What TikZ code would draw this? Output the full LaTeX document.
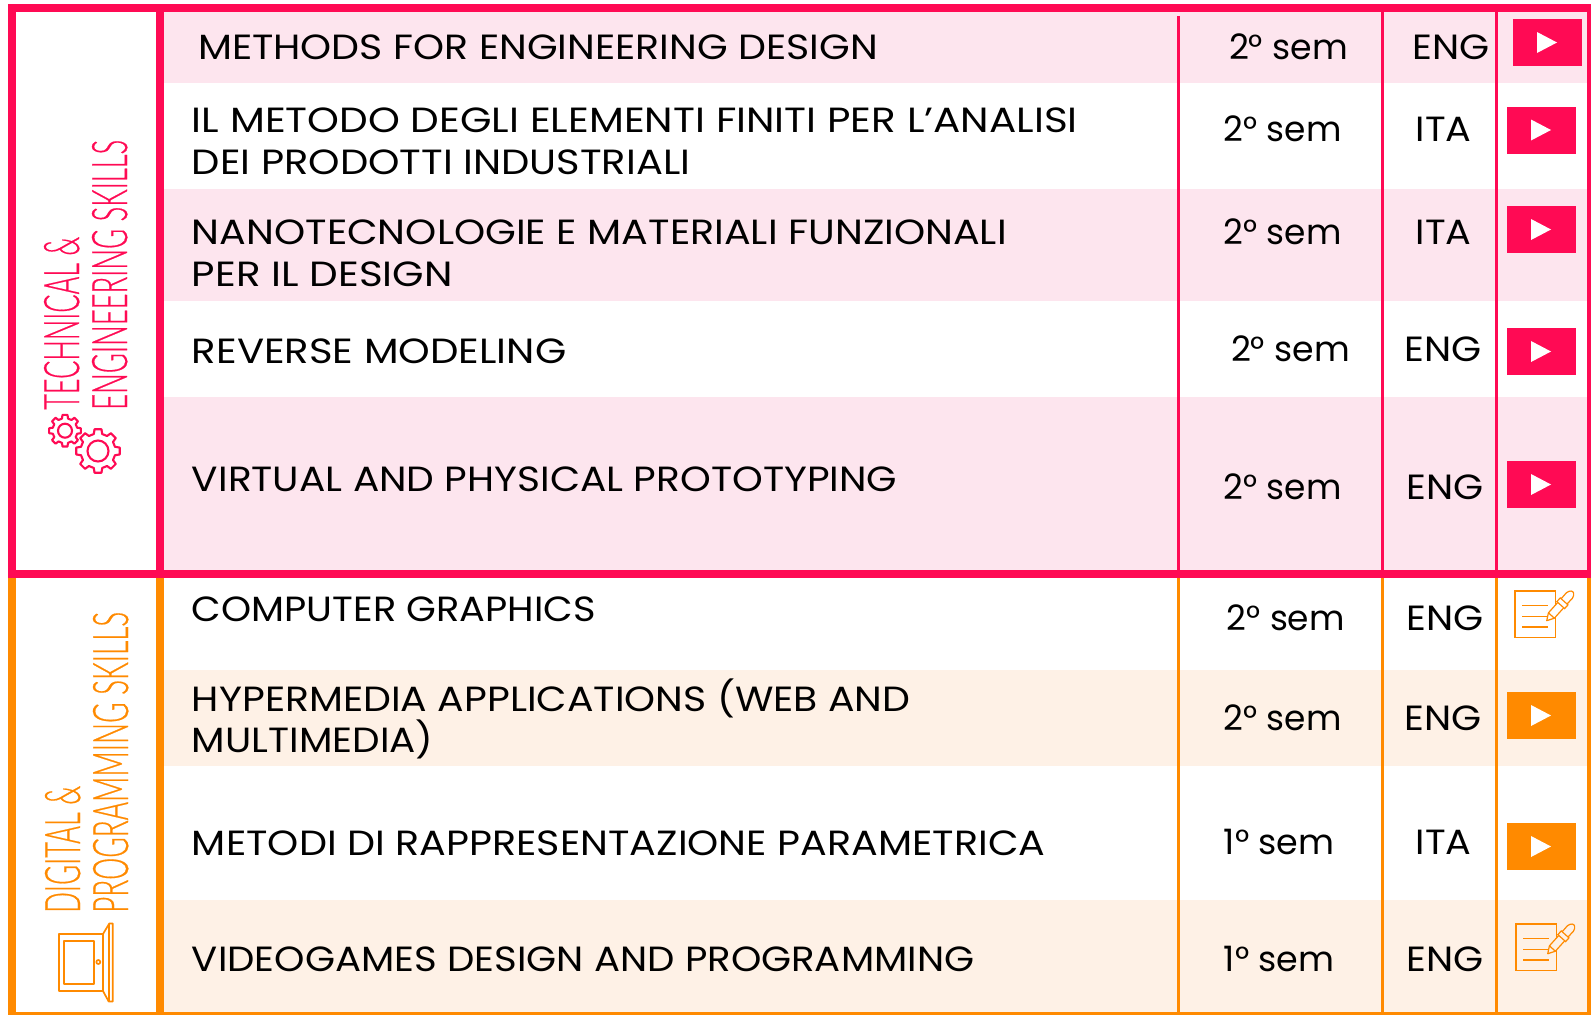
\documentclass[tikz,border=0pt]{standalone}
\usepackage{fontspec}
\usepackage{graphicx}
\setmainfont{Poppins}
\newfontfamily\headf[FakeBold=0.6]{Lato Light}
\definecolor{pk}{HTML}{FF0A54}
\definecolor{pkt}{HTML}{FDE5EE}
\definecolor{og}{HTML}{FF8A00}
\definecolor{ogt}{HTML}{FEF1E6}
\newdimen\uu \uu=1.0147pt
\usetikzlibrary{calc}
\newcommand\lab[5]{\node[txt] (#1) at (#2,#3) {\resizebox{#4\uu}{\height}{#5}};}
\newcommand\btn[4]{%
  \fill[#4] (#2,#3) rectangle ++(69,47);
  \coordinate (#1) at (#2,#3);
  \fill[white] ($(#1)+(24,13)$) -- ($(#1)+(44,23.5)$) -- ($(#1)+(24,34)$) -- cycle;}
\newcommand\noteicon[3]{%
  \begin{scope}[shift={(#1,#2)},draw=og]
    \draw[line width=1.2pt] (0,0) rectangle (40.7,46.3);
    \foreach \yy in {14.7,25.7,36} \draw[line width=1.2pt] (7.3,\yy) -- (33.3,\yy);
    \begin{scope}[shift={(31.7,29.7)},rotate=48]
      \draw[line width=1.2pt,fill=#3,line join=round] (0,0) -- (7,-4) -- (30,-4)
        .. controls (36,-5) and (39,-2) .. (39,0)
        .. controls (39,2) and (36,5) .. (30,4) -- (7,4) -- cycle;
      \draw[line width=1.2pt] (7,-4) -- (7,4);
      \draw[line width=1.2pt,fill=#3] (21,-5.2) rectangle (26,5.2);
    \end{scope}
  \end{scope}}
\newcommand\gearicon[6]{% name, cx, cy, outer r, root r, ring r
  \coordinate (#1) at (#2,#3);
  \draw[pk,line width=2.1pt,line join=round]
    ($(#1)+(-14:#5)$)
    \foreach \k [evaluate=\k as \a using \k*45] in {0,...,7} {
      -- ($(#1)+(\a-14:#5)$) -- ($(#1)+(\a-9:#4)$) -- ($(#1)+(\a+9:#4)$) -- ($(#1)+(\a+14:#5)$) -- ($(#1)+(\a+31:#5)$)
    } -- cycle;
  \draw[pk,line width=2.1pt] (#1) circle (#6);}
\tikzset{
  txt/.style={anchor=base west,inner sep=0pt,font=\fontsize{35}{35}\selectfont,text=black},
  headtxt/.style={anchor=base west,inner sep=0pt,rotate=90,font=\fontsize{49}{49}\selectfont},
}
\begin{document}
\begin{tikzpicture}[x=1pt,y=-1pt]
\useasboundingbox (0,0) rectangle (1591,1015);
\fill[white] (0,0) rectangle (1591,1015);
% tinted bands
\fill[pkt] (164,12) rectangle (1587,83);
\fill[pkt] (164,189) rectangle (1587,301);
\fill[pkt] (164,397) rectangle (1587,571);
\fill[ogt] (164,670) rectangle (1587,766);
\fill[ogt] (164,900) rectangle (1587,1012);
% pink grid
\fill[pk] (1177,16) rectangle (1179.5,571);
\fill[pk] (1381,12) rectangle (1383.5,571);
\fill[pk] (1495,12) rectangle (1497.5,571);
\fill[pk] (1587,12) rectangle (1591,571);
\fill[pk] (7.5,4) rectangle (16,578);
\fill[pk] (156,4) rectangle (164,578);
% orange grid
\fill[og] (1177,578) rectangle (1179.5,1012);
\fill[og] (1381,578) rectangle (1383.5,1012);
\fill[og] (1495,578) rectangle (1497.5,1012);
\fill[og] (1587,578) rectangle (1591,1015);
\fill[og] (7.5,578) rectangle (16,1015);
\fill[og] (156,578) rectangle (164,1015);
\fill[og] (7.5,1012) rectangle (1591,1015);
\fill[pk] (7.5,4) rectangle (1591,12);
\fill[pk] (7.5,570) rectangle (1591,578);
% headings
\node[headtxt,text=pk] (h1) at (79,410) {\resizebox{173pt}{\height}{\headf TECHNICAL \&}};
\node[headtxt,text=pk] (h2) at (127,410) {\resizebox{270pt}{\height}{\headf ENGINEERING SKILLS}};
\node[headtxt,text=og] (h3) at (80,913) {\resizebox{127pt}{\height}{\headf DIGITAL \&}};
\node[headtxt,text=og] (h4) at (128,913) {\resizebox{301pt}{\height}{\headf PROGRAMMING SKILLS}};
% gears
\gearicon{g1}{65}{430.7}{16}{12.5}{7}
\gearicon{g2}{98}{451}{22}{17.5}{10.5}
% door
\begin{scope}[og,line width=1.7pt,line join=round]
  \draw (58.7,934) rectangle (103,991);
  \draw (64,940.7) rectangle (94,984);
  \draw (98.3,962) circle (2);
  \draw (103,934) -- (109.3,923.5) -- (112.7,923.5) -- (112.7,1001.5) -- (108.7,1001.5) -- (103,991);
  \draw (109.3,923.5) -- (109.3,1001.5);
\end{scope}
% texts
\begin{scope}[x=1.0147pt,y=-1.0147pt]
\lab{t1}{195}{59}{670}{METHODS FOR ENGINEERING DESIGN}
\lab{t2a}{189}{131}{873}{IL METODO DEGLI ELEMENTI FINITI PER L’ANALISI}
\lab{t2b}{189}{172}{491}{DEI PRODOTTI INDUSTRIALI}
\lab{t3a}{189}{241}{803}{NANOTECNOLOGIE E MATERIALI FUNZIONALI}
\lab{t3b}{189}{282}{257}{PER IL DESIGN}
\lab{t4}{189}{358}{369}{REVERSE MODELING}
\lab{t5}{189}{484}{695}{VIRTUAL AND PHYSICAL PROTOTYPING}
\lab{t6}{189}{612}{398}{COMPUTER GRAPHICS}
\lab{t7a}{189}{701}{708}{HYPERMEDIA APPLICATIONS (WEB AND}
\lab{t7b}{189}{742}{238}{MULTIMEDIA)}
\lab{t8}{189}{843}{841}{METODI DI RAPPRESENTAZIONE PARAMETRICA}
\lab{t9}{189}{957}{771}{VIDEOGAMES DESIGN AND PROGRAMMING}
\lab{s1}{1211}{59}{117}{2° sem}
\lab{s2}{1206}{139}{116}{2° sem}
\lab{s3}{1206}{241}{116}{2° sem}
\lab{s4}{1213}{356}{117}{2° sem}
\lab{s5}{1206}{492}{116}{2° sem}
\lab{s6}{1209}{621}{116}{2° sem}
\lab{s7}{1206}{720}{116}{2° sem}
\lab{s8}{1206}{842}{109}{1° sem}
\lab{s9}{1206}{957}{109}{1° sem}
\lab{l1}{1392}{59}{76}{ENG}
\lab{l2}{1395}{139}{55}{ITA}
\lab{l3}{1395}{241}{55}{ITA}
\lab{l4}{1384}{356}{76}{ENG}
\lab{l5}{1386}{492}{76}{ENG}
\lab{l6}{1386}{621}{76}{ENG}
\lab{l7}{1384}{720}{76}{ENG}
\lab{l8}{1395}{842}{55}{ITA}
\lab{l9}{1386}{957}{76}{ENG}
\end{scope}
% buttons
\btn{b1}{1513}{19}{pk}
\btn{b2}{1507}{106.5}{pk}
\btn{b3}{1507}{206}{pk}
\btn{b4}{1507}{328}{pk}
\btn{b5}{1507}{461}{pk}
\btn{b7}{1507}{692}{og}
\btn{b8}{1507}{823}{og}
% note icons
\noteicon{1515}{591}{white}
\noteicon{1516}{924}{ogt}
\end{tikzpicture}
\end{document}
